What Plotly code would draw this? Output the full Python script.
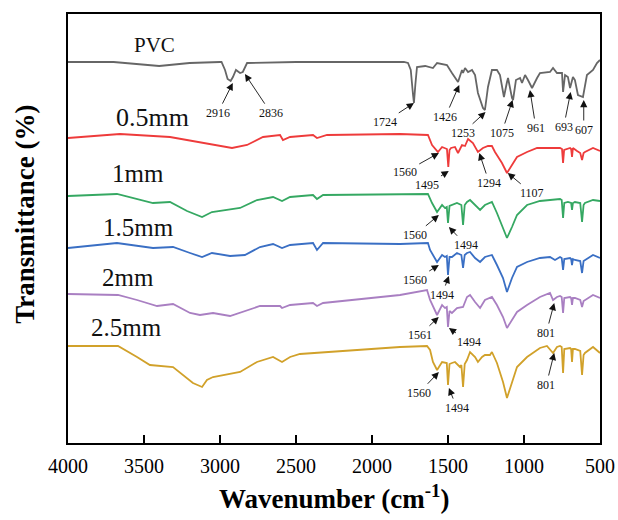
import plotly.graph_objects as go

# ---------------- data ----------------
tick_vals = [4000, 3500, 3000, 2500, 2000, 1500, 1000, 500]
tick_text = ["4000", "3500", "3000", "2500", "2000", "1500", "1000", "500"]

pvc_wn = [4000, 3700, 3400, 3200, 3000, 2990, 2967, 2950, 2930, 2915, 2895, 2868, 2850, 2822, 2500,
          2000, 1790, 1763, 1745, 1730, 1724, 1715, 1704, 1650, 1599, 1572, 1507, 1474, 1454, 1434,
          1408, 1401, 1388, 1368, 1342, 1322, 1303, 1270, 1257, 1237, 1211, 1178, 1158, 1132, 1112,
          1105, 1079, 1072, 1053, 1026, 1013, 993, 974, 947, 914, 895, 829, 809, 783, 750,
          743, 730, 711, 697, 678, 665, 645, 612, 586, 546, 520, 500]
pvc_t = [381, 381, 377, 380, 381, 381, 373, 364, 362, 366, 373, 370, 371, 380, 381,
         381, 381, 380, 373, 348, 340, 358, 376, 377, 375, 380, 378, 370, 365, 361,
         373, 370, 375, 371, 373, 368, 350, 335, 333, 356, 373, 373, 368, 346, 361,
         365, 345, 343, 363, 365, 360, 368, 363, 355, 365, 370, 371, 375, 370, 370,
         351, 368, 366, 355, 366, 363, 348, 346, 368, 373, 380, 383]

red_wn = [4000, 3658, 3329, 3132, 2921, 2822, 2717, 2605, 2586, 2539, 2388, 2362, 2296, 1816, 1632,
          1605, 1586, 1566, 1539, 1520, 1507, 1498, 1490, 1480, 1454, 1434, 1408, 1388, 1368, 1336,
          1303, 1270, 1237, 1211, 1191, 1145, 1112, 1079, 1046, 980, 914, 763, 750, 743, 736,
          697, 690, 684, 678, 651, 630, 618, 608, 599, 546, 500]
red_t = [305, 309, 306, 301, 295, 298, 306, 308, 303, 306, 308, 305, 308, 309, 308,
         298, 295, 291, 296, 295, 294, 276, 293, 295, 296, 290, 298, 297, 304, 300,
         291, 295, 297, 297, 291, 280, 270, 278, 286, 291, 295, 295, 294, 280, 293,
         295, 294, 286, 295, 292, 290, 283, 290, 291, 295, 292]

green_wn = [4000, 3678, 3441, 3329, 3217, 3118, 3053, 2868, 2757, 2651, 2592, 2539, 2388, 2362, 2322,
            1816, 1632, 1605, 1572, 1539, 1520, 1508, 1500, 1490, 1474, 1441, 1412, 1401, 1390, 1375,
            1355, 1322, 1289, 1257, 1211, 1178, 1138, 1112, 1079, 1046, 980, 895, 763, 752, 743,
            735, 711, 690, 684, 678, 665, 630, 618, 608, 599, 546, 500]
green_t = [247, 249, 240, 241, 232, 226, 231, 235, 243, 246, 242, 246, 248, 244, 248,
           249, 249, 240, 231, 238, 235, 236, 220, 237, 238, 240, 238, 218, 238, 241,
           243, 238, 233, 238, 241, 230, 216, 205, 216, 228, 238, 242, 244, 243, 225,
           240, 241, 240, 233, 240, 241, 240, 221, 238, 240, 243, 242]

blue_wn = [4000, 3678, 3441, 3309, 3197, 3118, 3053, 2934, 2836, 2737, 2651, 2592, 2539, 2388, 2362,
           2322, 1816, 1632, 1618, 1572, 1539, 1520, 1508, 1500, 1490, 1474, 1441, 1412, 1401, 1390,
           1375, 1355, 1322, 1289, 1257, 1211, 1178, 1138, 1112, 1079, 1046, 980, 895, 829, 796,
           763, 752, 743, 735, 697, 690, 684, 678, 665, 630, 618, 608, 599, 546, 500]
blue_t = [195, 200, 195, 196, 190, 186, 190, 187, 188, 196, 199, 195, 198, 200, 193,
          200, 199, 200, 193, 181, 188, 186, 187, 168, 186, 186, 190, 188, 175, 188,
          190, 191, 185, 181, 186, 188, 178, 165, 151, 165, 176, 181, 185, 186, 183,
          186, 185, 173, 184, 185, 184, 178, 184, 183, 182, 170, 182, 183, 188, 185]

purple_wn = [4000, 3671, 3546, 3414, 3309, 3197, 3132, 3046, 2934, 2822, 2737, 2605, 2592, 2539, 2388,
             2362, 2322, 1816, 1638, 1618, 1572, 1539, 1520, 1508, 1500, 1490, 1474, 1441, 1401, 1375,
             1355, 1322, 1289, 1257, 1211, 1178, 1138, 1112, 1079, 1046, 980, 895, 829, 809, 783,
             763, 752, 743, 735, 697, 690, 684, 678, 665, 630, 618, 608, 599, 546, 500]
purple_t = [149, 148, 143, 137, 139, 130, 128, 130, 127, 133, 137, 137, 135, 138, 140,
            137, 140, 148, 153, 143, 128, 138, 135, 136, 116, 132, 130, 135, 136, 146,
            148, 141, 135, 143, 146, 138, 126, 115, 123, 131, 138, 146, 150, 143, 146,
            147, 146, 130, 145, 146, 145, 138, 145, 145, 143, 136, 142, 143, 148, 145]

gold_wn = [4000, 3671, 3546, 3461, 3309, 3243, 3178, 3118, 3086, 3046, 2868, 2757, 2651, 2592, 2539,
           2474, 1816, 1638, 1618, 1599, 1572, 1539, 1520, 1508, 1500, 1490, 1474, 1454, 1421, 1412,
           1401, 1390, 1375, 1355, 1322, 1303, 1276, 1257, 1224, 1211, 1178, 1138, 1112, 1079, 1046,
           980, 895, 849, 809, 783, 763, 752, 743, 735, 697, 690, 684, 678, 665, 630,
           618, 608, 599, 546, 500]
gold_t = [97, 97, 86, 78, 76, 68, 60, 56, 63, 66, 71, 81, 86, 81, 86,
          89, 96, 97, 93, 81, 73, 81, 80, 80, 58, 79, 80, 81, 76, 78,
          56, 79, 83, 91, 86, 81, 86, 88, 88, 91, 80, 61, 45, 60, 76,
          86, 95, 97, 90, 96, 97, 96, 70, 94, 95, 94, 81, 94, 94, 92,
          68, 88, 90, 96, 90]

series_names = ["PVC", "0.5mm", "1mm", "1.5mm", "2mm", "2.5mm"]
series_colors = ["#666666", "#ee3b3b", "#35a862", "#3a6fc4", "#a97fc2", "#d1a12a"]
series_wn = [pvc_wn, red_wn, green_wn, blue_wn, purple_wn, gold_wn]
series_t = [pvc_t, red_t, green_t, blue_t, purple_t, gold_t]

# series name labels (wavenumber, transmittance, font size)
label_wn = [3428, 3447, 3539, 3539, 3605, 3612]
label_t = [398, 326, 270, 216, 166, 116]
label_size = [21, 26, 25, 25, 25, 25]

# peak annotations: text, tip wavenumber, tip transmittance, text offset (px)
peak_text = ["2916", "2836", "1724", "1426", "1253", "1075", "961", "693", "607",
             "1560", "1495", "1294", "1107",
             "1560", "1494",
             "1560", "1494",
             "1561", "1494", "801",
             "1560", "1494", "801"]
peak_wn = [2916, 2836, 1724, 1426, 1253, 1075, 961, 693, 607,
           1560, 1495, 1294, 1107,
           1560, 1494,
           1560, 1494,
           1561, 1494, 801,
           1560, 1494, 801]
peak_t = [360, 369, 340, 358, 331, 343, 353, 351, 343,
          290, 272, 290, 270,
          228, 216,
          178, 167,
          126, 115, 140,
          71, 55, 90]
peak_dx = [-15, 26, -29, -14, -23, -11, 6, -7, 0,
           -34, -22, 10, 24,
           -24, 17,
           -24, -7,
           -19, 20, -8,
           -20, 8, -8]
peak_dy = [30, 39, 19, 32, 21, 33, 38, 35, 30,
           19, 14, 30, 20,
           20, 18,
           15, 19,
           18, 14, 30,
           21, 20, 32]

# ---------------- figure ----------------
SERIF = "Liberation Serif"
fig = go.Figure()
for name, col, xs, ys in zip(series_names, series_colors, series_wn, series_t):
    fig.add_trace(go.Scatter(x=xs, y=ys, mode="lines", name=name,
                             line=dict(color=col, width=1.8), showlegend=False,
                             hoverinfo="skip"))

annotations = []
for name, x, y, s in zip(series_names, label_wn, label_t, label_size):
    annotations.append(dict(x=x, y=y, xref="x", yref="y", text=name, showarrow=False,
                            font=dict(family=SERIF, size=s, color="#111111"),
                            xanchor="center", yanchor="middle"))
for txt, x, y, dx, dy in zip(peak_text, peak_wn, peak_t, peak_dx, peak_dy):
    annotations.append(dict(x=x, y=y, xref="x", yref="y", text=txt, showarrow=True,
                            ax=dx, ay=dy, arrowhead=2, arrowsize=1.6, arrowwidth=0.9,
                            arrowcolor="#111111", startstandoff=1,
                            font=dict(family=SERIF, size=12, color="#111111")))
annotations.append(dict(x=0.5, y=-0.126, xref="paper", yref="paper",
                        text="<b>Wavenumber (cm<sup>-1</sup>)</b>", showarrow=False,
                        xanchor="center", yanchor="middle",
                        font=dict(family=SERIF, size=27, color="black")))
annotations.append(dict(x=-0.081, y=0.534, xref="paper", yref="paper",
                        text="<b>Transmittance (%)</b>", showarrow=False, textangle=-90,
                        xanchor="center", yanchor="middle",
                        font=dict(family=SERIF, size=27, color="black")))

fig.update_layout(
    width=618, height=520,
    margin=dict(l=68, r=18, t=14, b=77),
    paper_bgcolor="white", plot_bgcolor="white",
    annotations=annotations,
    hovermode=False,
    xaxis=dict(range=[4000, 500], tickvals=tick_vals, ticktext=tick_text,
               ticks="inside", ticklen=8, tickwidth=2, tickcolor="black",
               showline=True, linecolor="black", linewidth=2, mirror=True,
               showgrid=False, zeroline=False, ticklabelstandoff=4, automargin=False,
               tickfont=dict(family=SERIF, size=20, color="black")),
    yaxis=dict(range=[0, 429], showticklabels=False, ticks="", automargin=False,
               showline=True, linecolor="black", linewidth=2, mirror=True,
               showgrid=False, zeroline=False),
)

fig.write_html("out.html", config={"displayModeBar": False},
               post_script="document.body.style.margin='0px';document.body.style.overflow='hidden';")
